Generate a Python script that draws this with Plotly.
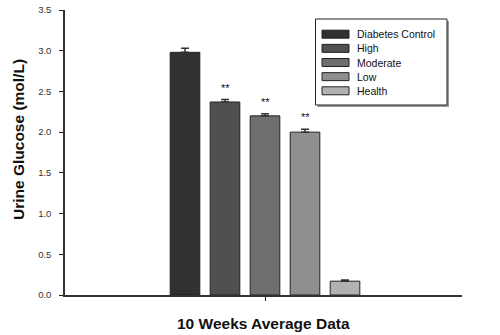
import plotly.graph_objects as go

series_names = ["Diabetes Control", "High", "Moderate", "Low", "Health"]
values = [2.98, 2.37, 2.20, 2.00, 0.17]
errors = [0.05, 0.03, 0.025, 0.035, 0.015]
significance = ["", "**", "**", "**", ""]
colors = ["#313131", "#505050", "#6f6f6f", "#8f8f8f", "#b1b1b1"]
x_title = "10 Weeks Average Data"
y_title = "Urine Glucose (mol/L)"
y_ticks = [0.0, 0.5, 1.0, 1.5, 2.0, 2.5, 3.0, 3.5]

FONT = "Liberation Sans, Arial"
W, H = 500, 335
ML, MR, MT, MB = 65, 38, 10, 40
PW, PH = W - ML - MR, H - MT - MB


def px_x(p):
    return (p - ML) / PW


def px_y(p):
    return (H - MB - p) / PH


fig = go.Figure()
for i, (name, v, e, c) in enumerate(zip(series_names, values, errors, colors)):
    fig.add_trace(go.Bar(
        x=[i + 1], y=[v], name=name, width=0.74,
        marker=dict(color=c, line=dict(color="#222222", width=1)),
        error_y=dict(type="data", array=[e], arrayminus=[0], symmetric=False,
                     color="#333333", thickness=1.5, width=4),
        showlegend=False,
    ))

for i, (v, e, s) in enumerate(zip(values, errors, significance)):
    if s:
        fig.add_annotation(x=i + 1, y=v + e, text=s, showarrow=False,
                           yanchor="bottom", yshift=4,
                           font=dict(family=FONT, size=11, color="#111111"))

# custom legend (compact, as in the reference)
lx0, lx1, ly0, ly1 = 315.5, 447, 19, 105
fig.add_shape(type="rect", xref="paper", yref="paper",
              x0=px_x(lx0 + 2), x1=px_x(lx1 + 2), y0=px_y(ly1 + 2), y1=px_y(ly0 + 2),
              line=dict(width=0), fillcolor="#9a9a9a", layer="above")
fig.add_shape(type="rect", xref="paper", yref="paper",
              x0=px_x(lx0), x1=px_x(lx1), y0=px_y(ly1), y1=px_y(ly0),
              line=dict(color="#222222", width=1), fillcolor="white", layer="above")
row0, row_step = 34.2, 14.15
for i, (name, c) in enumerate(zip(series_names, colors)):
    cy = row0 + i * row_step
    fig.add_shape(type="rect", xref="paper", yref="paper",
                  x0=px_x(322), x1=px_x(349), y0=px_y(cy + 4), y1=px_y(cy - 4),
                  line=dict(color="#222222", width=1), fillcolor=c, layer="above")
    fig.add_annotation(xref="paper", yref="paper", x=px_x(354.5), y=px_y(cy),
                       xanchor="left", yanchor="middle", text=name, showarrow=False,
                       font=dict(family=FONT, size=10.5, color="#111111"))

# axis titles
fig.add_annotation(xref="paper", yref="paper", x=px_x(263.5), y=px_y(323),
                   xanchor="center", yanchor="middle", showarrow=False,
                   text="<b>" + x_title + "</b>",
                   font=dict(family=FONT, size=15.5, color="#111111"))
fig.add_annotation(xref="paper", yref="paper", x=px_x(18), y=px_y(140),
                   xanchor="center", yanchor="middle", showarrow=False, textangle=-90,
                   text="<b>" + y_title + "</b>",
                   font=dict(family=FONT, size=15.5, color="#111111"))

fig.update_layout(
    width=W, height=H,
    margin=dict(l=ML, r=MR, t=MT, b=MB, autoexpand=False),
    paper_bgcolor="white", plot_bgcolor="white",
    showlegend=False,
    font=dict(family=FONT, color="#222222"),
)
fig.update_xaxes(range=[-2, 7.925], tickvals=[3], ticktext=[""], ticks="outside",
                 ticklen=4, tickcolor="#222222", showline=True, linecolor="#333333",
                 linewidth=2, showgrid=False, zeroline=False, automargin=False)
fig.update_yaxes(range=[0, 3.5], tickvals=y_ticks, ticktext=[f"{t:.1f}" for t in y_ticks],
                 ticks="outside", ticklen=4, tickcolor="#222222", showline=True,
                 linecolor="#333333", linewidth=1.5, showgrid=False, zeroline=False,
                 automargin=False, ticklabelstandoff=6,
                 tickfont=dict(family=FONT, size=9.5, color="#333333"))

fig.write_html("out.html", config={"displayModeBar": False},
               post_script="document.body.style.margin='0';document.body.style.overflow='hidden';")
